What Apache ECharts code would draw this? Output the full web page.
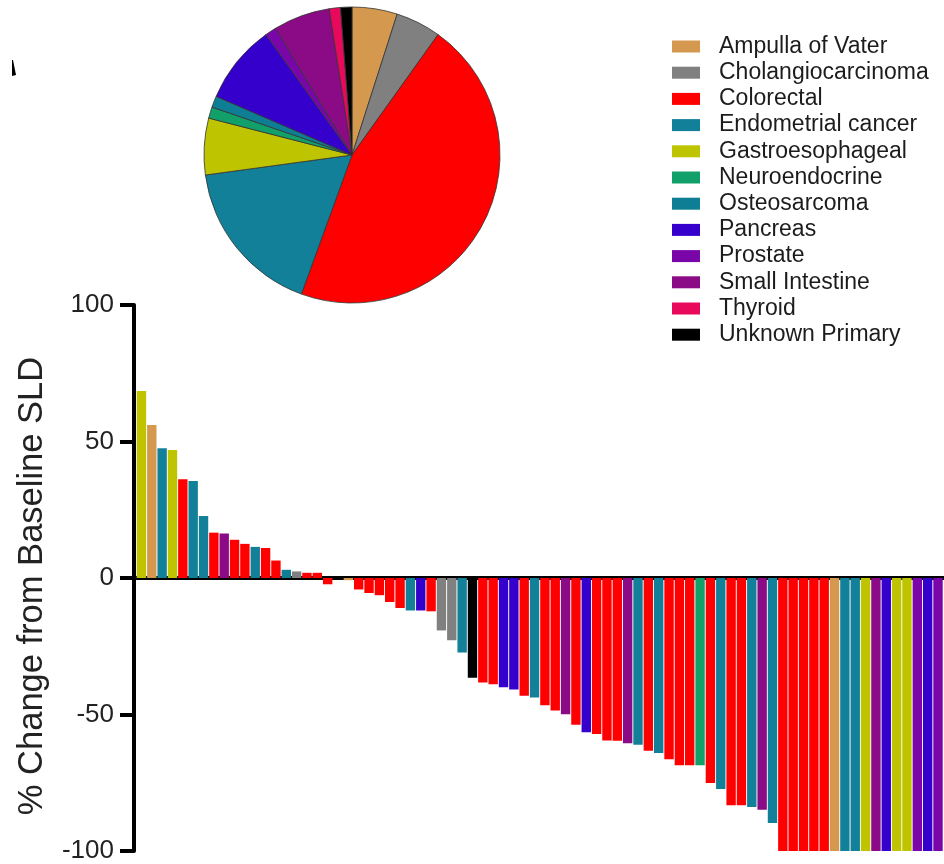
<!DOCTYPE html>
<html>
<head>
<meta charset="utf-8">
<script src="https://cdn.jsdelivr.net/npm/echarts@6/dist/echarts.min.js"></script>
<style>
html,body{margin:0;padding:0;background:#fff;}
#main{width:944px;height:864px;}
</style>
</head>
<body>
<div id="main"></div>
<script>
// Tumour types (legend / pie order)
var tumourTypes = ['Ampulla of Vater','Cholangiocarcinoma','Colorectal','Endometrial cancer','Gastroesophageal','Neuroendocrine','Osteosarcoma','Pancreas','Prostate','Small Intestine','Thyroid','Unknown Primary'];
var typeColors = ['#D4994F','#808080','#FF0000','#13809A','#BEC400','#12A06A','#0E7E94','#3500CC','#7A06AA','#8B0A86','#E8085C','#000000'];
// Patient counts per tumour type (pie)
var typeCounts = [4,4,37,14,5,1,1,7,1,5,1,1];

// Waterfall: tumour type of each patient, ordered by best % change
var barTypes = [
 'Gastroesophageal','Ampulla of Vater','Endometrial cancer','Gastroesophageal','Colorectal','Endometrial cancer','Endometrial cancer','Colorectal','Small Intestine','Colorectal',
 'Colorectal','Endometrial cancer','Colorectal','Colorectal','Osteosarcoma','Cholangiocarcinoma','Colorectal','Colorectal','Colorectal','Colorectal',
 'Ampulla of Vater','Colorectal','Colorectal','Colorectal','Colorectal','Colorectal','Endometrial cancer','Pancreas','Colorectal','Cholangiocarcinoma',
 'Cholangiocarcinoma','Endometrial cancer','Unknown Primary','Colorectal','Colorectal','Pancreas','Pancreas','Colorectal','Endometrial cancer','Colorectal',
 'Colorectal','Small Intestine','Colorectal','Pancreas','Colorectal','Colorectal','Colorectal','Small Intestine','Endometrial cancer','Colorectal',
 'Endometrial cancer','Colorectal','Colorectal','Colorectal','Neuroendocrine','Colorectal','Endometrial cancer','Colorectal','Colorectal','Endometrial cancer',
 'Small Intestine','Endometrial cancer','Colorectal','Colorectal','Colorectal','Colorectal','Colorectal','Ampulla of Vater','Endometrial cancer','Endometrial cancer',
 'Gastroesophageal','Small Intestine','Pancreas','Gastroesophageal','Gastroesophageal','Prostate','Pancreas','Prostate'
];
// Best % change from baseline SLD for each patient
var barValues = [
 68.5,56,47.5,46.9,36.2,35.5,22.7,16.6,16.3,14,
 12.5,11.4,11,6.4,3,2.4,1.9,1.9,-2.3,0,
 -0.8,-4.2,-5.5,-6.3,-8.8,-11,-11.9,-11.9,-12.2,-19.2,
 -22.8,-27.3,-36.5,-38.3,-38.9,-40,-40.8,-43.1,-43.8,-46.6,
 -48.5,-49.9,-53.8,-56.5,-57.1,-59.5,-59.6,-60.5,-61.1,-63.3,
 -64.1,-66.4,-68.6,-68.6,-68.6,-75.1,-77.3,-83.2,-83.2,-83.9,
 -84.9,-89.7,-100,-100,-100,-100,-100,-100,-100,-100,
 -100,-100,-100,-100,-100,-100,-100,-100
];
var yTicks = [-100,-50,0,50,100];

var colorOf = {};
tumourTypes.forEach(function(t,i){ colorOf[t] = typeColors[i]; });

var pieData = tumourTypes.map(function(t,i){
  return {name:t, value:typeCounts[i], itemStyle:{color:typeColors[i]}};
});
var barData = barValues.map(function(v,i){
  return {value:[i+1, v], itemStyle:{color:colorOf[barTypes[i]]}};
});

var font = '"Liberation Sans", Arial, sans-serif';
var chart = echarts.init(document.getElementById('main'), null, {renderer:'canvas'});
chart.setOption({
  backgroundColor:'#ffffff',
  animation:false,
  textStyle:{fontFamily:font},
  legend:{
    data:tumourTypes,
    orient:'vertical',
    left:667, top:30,
    icon:'rect',
    itemWidth:28, itemHeight:12,
    itemGap:3.2,
    selectedMode:false,
    itemStyle:{borderWidth:0},
    textStyle:{fontSize:23, color:'#1c1c1c', fontFamily:font, padding:[0,0,0,14]}
  },
  grid:{left:134, right:-9, top:305, bottom:11, containLabel:false},
  xAxis:{
    type:'value', min:0.28, max:78.58,
    axisLine:{show:true, onZero:true, lineStyle:{color:'#000', width:4}},
    axisTick:{show:false}, axisLabel:{show:false}, splitLine:{show:false}
  },
  yAxis:{
    type:'value', min:yTicks[0], max:yTicks[yTicks.length-1], interval:50,
    name:'% Change from Baseline SLD',
    nameLocation:'middle', nameGap:84, nameRotate:90,
    nameTextStyle:{fontSize:34.5, color:'#222', fontFamily:font, padding:[0,16,0,0]},
    axisLine:{show:true, onZero:false, lineStyle:{color:'#000', width:4}},
    axisTick:{show:true, length:14, lineStyle:{color:'#000', width:4}},
    axisLabel:{fontSize:26, color:'#222', margin:20, fontFamily:font},
    splitLine:{show:false}
  },
  graphic:[{
    type:'polygon', shape:{points:[[12,60],[13,60],[16,75],[12,76]]}, style:{fill:'#000'}
  }],
  series:[
    {
      type:'pie', name:'Tumour type',
      center:[352,155], radius:148,
      startAngle:90, clockwise:true,
      label:{show:false}, labelLine:{show:false},
      emphasis:{disabled:true},
      itemStyle:{borderColor:'#333', borderWidth:0.8},
      data:pieData
    },
    {
      type:'bar', name:'% change',
      barWidth:9.4,
      emphasis:{disabled:true},
      data:barData,
      z:1
    }
  ]
});
</script>
</body>
</html>
